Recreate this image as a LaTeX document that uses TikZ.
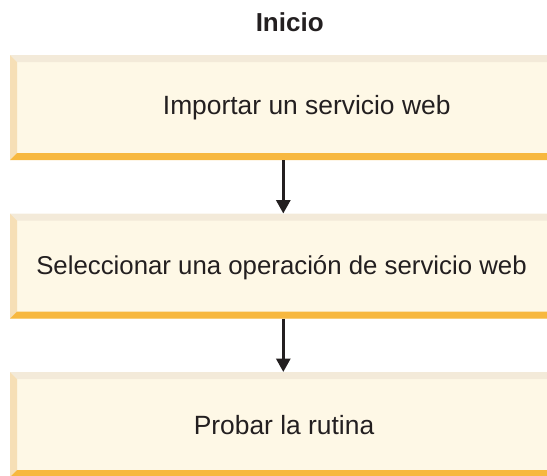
\documentclass[tikz,border=0pt]{standalone}
\usepackage{fontspec}
\setmainfont{Liberation Sans}
\usetikzlibrary{arrows.meta,calc}
\definecolor{cream}{HTML}{FEF8E6}
\definecolor{bevtop}{HTML}{F3EAD9}
\definecolor{bevleft}{HTML}{F6DFB6}
\definecolor{orangebar}{HTML}{F7B83F}
\definecolor{txt}{HTML}{231F20}
\tikzset{
  box/.style={rectangle, fill=cream, minimum width=537pt, minimum height=105pt, inner sep=0pt, outer sep=0pt, anchor=north west},
  lbl/.style={font=\fontsize{26.4}{30}\selectfont, text=txt, anchor=base, inner sep=0pt},
  arr/.style={draw=txt, line width=3pt, -{Triangle[width=14pt,length=13.5pt]}}
}
\newcommand{\bevelbox}[1]{%
  \fill[bevtop] (#1.north west) -- (#1.north east) -- ($(#1.north east)+(0,7)$) -- ($(#1.north west)+(7,7)$) -- cycle;
  \fill[bevleft] (#1.north west) -- ($(#1.north west)+(7,7)$) -- ($(#1.south west)+(7,-7)$) -- (#1.south west) -- cycle;
  \fill[orangebar] (#1.south west) -- ($(#1.south west)+(7,-7)$) -- ($(#1.south east)+(0,-7)$) -- (#1.south east) -- cycle;
}
\begin{document}
\begin{tikzpicture}[x=1pt,y=-1pt]
\useasboundingbox (0,0) rectangle (547,475);
\clip (0,0) rectangle (547,475);
\node[lbl, font=\fontsize{26}{30}\selectfont\bfseries] (inicio) at (289.7,31) {Inicio};
\node[box] (b1) at (10,55) {};
\node[box] (b2) at (10,213.5) {};
\node[box] (b3) at (10,372) {};
\bevelbox{b1}
\bevelbox{b2}
\bevelbox{b3}
\node[lbl] (t1) at (306.7,114) {Importar un servicio web};
\node[lbl, font=\fontsize{25.8}{30}\selectfont] (t2) at (281.5,274) {Seleccionar una operación de servicio web};
\node[lbl] (t3) at (284,434) {Probar la rutina};
\coordinate (ax) at (283.3,0);
\draw[arr] (b1.south -| ax) -- (b2.north -| ax);
\draw[arr] (b2.south -| ax) -- (b3.north -| ax);
\end{tikzpicture}
\end{document}
